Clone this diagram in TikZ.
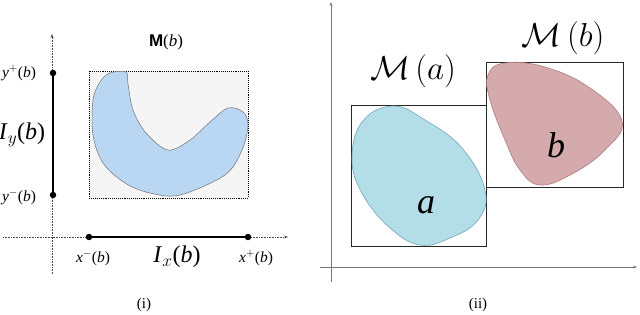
\documentclass[tikz,border=0pt]{standalone}
\usepackage{fontspec}
\setmainfont{Liberation Serif}
\setsansfont{Liberation Sans}
\usetikzlibrary{arrows.meta}
\definecolor{blobblue}{HTML}{B9D7F3}
\definecolor{bloba}{HTML}{B3DDE7}
\definecolor{blobaedge}{HTML}{6FA9BC}
\definecolor{blobb}{HTML}{D4AAAC}
\definecolor{blobbedge}{HTML}{B07C80}
\definecolor{axgray}{HTML}{777777}
\tikzset{
  dotaxis/.style={densely dotted, draw=black!70, line width=0.6pt, -{Stealth[length=4pt,width=3pt]}},
  plainaxis/.style={draw=axgray, line width=0.6pt, -{Stealth[length=4pt,width=3pt]}},
  interval/.style={line width=2.4pt},
  enddot/.style={circle, fill=black, inner sep=0pt, minimum size=6.5pt},
  lbl/.style={font=\fontsize{15.5}{15.5}\selectfont, inner sep=0pt},
  biglbl/.style={font=\fontsize{24}{24}\selectfont, inner sep=0pt},
  mlbl/.style={font=\fontsize{20.74}{20.74}\selectfont, inner sep=0pt, scale=1.6},
  letter/.style={font=\fontsize{36}{36}\selectfont, inner sep=0pt},
  capt/.style={font=\fontsize{15}{15}\selectfont, inner sep=0pt},
  mbox/.style={draw=black!85, line width=0.6pt}
}
\begin{document}
\begin{tikzpicture}[x=1pt,y=-1pt]
\useasboundingbox (0,0) rectangle (640,315);
% ---------- panel (i) ----------
\coordinate (vaxB) at (52,274);
\coordinate (vaxT) at (52,34);
\coordinate (haxL) at (3,237);
\coordinate (haxR) at (288,237);
\draw[dotaxis] (vaxB) -- (vaxT);
\draw[dotaxis] (haxL) -- (haxR);
\draw[densely dotted, line width=0.9pt, fill=black!4] (89,71) rectangle (248,198);
\draw[draw=black!55, line width=0.5pt, fill=blobblue]
  plot[smooth cycle, tension=0.55] coordinates {
  (110,73) (126,72) (128,84) (133,110) (146,133) (168,150) (190,140)
  (210,122) (228,108) (243,112) (248,125) (242,150) (225,175) (180,195)
  (150,193) (125,183) (103,163) (93,135) (93,100) (100,82)};
\node[enddot] (yp) at (53,73) {};
\node[enddot] (ym) at (53,195) {};
\node[enddot] (xm) at (89,237) {};
\node[enddot] (xp) at (248,237) {};
\draw[interval] (yp) -- (ym);
\draw[interval] (xm) -- (xp);
\node[font=\fontsize{17}{17}\selectfont, inner sep=0pt] (mtitle) at (166,42) {\textbf{\sffamily M}(\textit{b})};
\node[lbl] (ypl) at (19,73) {\textit{y}$^{+}$(\textit{b})};
\node[lbl] (yml) at (19,197) {\textit{y}$^{-}$(\textit{b})};
\node[biglbl] (iyl) at (22,135) {\textit{I}$_{y}$(\textit{b})};
\node[lbl] (xml) at (93,258) {\textit{x}$^{-}$(\textit{b})};
\node[biglbl] (ixl) at (177,257) {\textit{I}$_{x}$(\textit{b})};
\node[lbl] (xpl) at (256,258) {\textit{x}$^{+}$(\textit{b})};
\node[capt] (ci) at (144,305) {(i)};
% ---------- panel (ii) ----------
\coordinate (v2B) at (331,282);
\coordinate (v2T) at (331,2);
\coordinate (h2L) at (320,267);
\coordinate (h2R) at (637,267);
\draw[plainaxis] (v2B) -- (v2T);
\draw[plainaxis] (h2L) -- (h2R);
\draw[mbox] (351,105) rectangle (486,246);
\draw[mbox] (486,62) rectangle (623,187);
\draw[draw=blobaedge, line width=0.6pt, fill=bloba]
  plot[smooth cycle, tension=0.7] coordinates {
  (393,106) (425,120) (462,148) (485,190) (478,220) (450,238) (420,245)
  (390,228) (363,195) (352,160) (362,122)};
\draw[draw=blobbedge, line width=0.6pt, fill=blobb]
  plot[smooth cycle, tension=0.7] coordinates {
  (505,63) (545,67) (590,88) (622,121) (605,150) (572,174) (540,185)
  (520,170) (505,140) (490,100) (488,75)};
\node[letter] (la) at (426,205) {\textit{a}};
\node[letter] (lb) at (556,145) {\textit{b}};
\node[mlbl] (ma) at (413,71) {$\mathcal{M}\,(a)$};
\node[mlbl] (mb) at (563,38) {$\mathcal{M}\,(b)$};
\node[capt] (cii) at (478,305) {(ii)};
\end{tikzpicture}
\end{document}
